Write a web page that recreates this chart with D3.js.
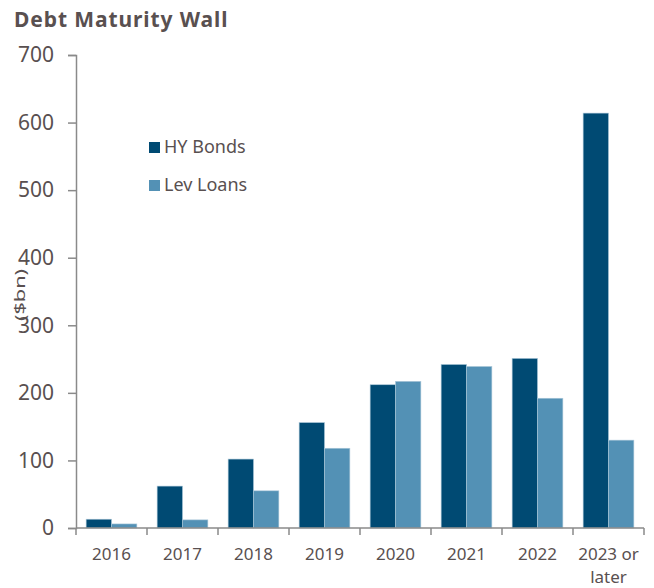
<!DOCTYPE html>
<html><head><meta charset="utf-8">
<script src="https://cdn.jsdelivr.net/npm/d3@7"></script>
<style>body{margin:0;background:#fff}</style>
</head><body>
<svg id="c" width="654" height="588"></svg>
<script>
const categories = ["2016","2017","2018","2019","2020","2021","2022","2023 or later"];
const hyBonds = [13, 62, 102, 156, 212, 242, 251, 614];
const levLoans = [6, 12, 55, 118, 217, 239, 192, 130];
const seriesNames = ["HY Bonds","Lev Loans"];
const yTicks = [0,100,200,300,400,500,600,700];
const colors = ["#004A73","#5391B5"];
const textColor = "#595050";
const font = "'Noto Sans', sans-serif";

const svg = d3.select("#c");
const m = {left:76, right:644, top:55, bottom:528};
const x = d3.scaleBand().domain(categories).range([m.left, m.right]).padding(0);
const xs = d3.scaleBand().domain(seriesNames).range([0, x.bandwidth()]).paddingInner(0).paddingOuter(0.4);
const y = d3.scaleLinear().domain([0,700]).range([m.bottom, m.top]);

svg.append("text").attr("x",14).attr("y",27).text("Debt Maturity Wall")
  .attr("font-family",font).attr("font-weight","bold").attr("font-size",21)
  .attr("letter-spacing",0.9).attr("fill",textColor);

// y axis
const ya = svg.append("g").attr("transform",`translate(${m.left},0)`)
  .call(d3.axisLeft(y).tickValues(yTicks).tickSize(8).tickPadding(14));
ya.select(".domain").attr("stroke","#8a8a8a").attr("stroke-width",1.5);
ya.selectAll(".tick line").attr("stroke","#8a8a8a").attr("stroke-width",1.5);
ya.selectAll(".tick text").attr("font-family",font).attr("font-size",21).attr("fill",textColor);

svg.append("text").attr("transform",`translate(25,295) rotate(-90) scale(1.55,1)`).attr("text-anchor","middle")
  .text("($bn)").attr("font-family",font).attr("font-size",14).attr("fill",textColor);

// bars
const data = categories.map((c,i)=>({c, vals:[hyBonds[i], levLoans[i]]}));
const g = svg.append("g");
data.forEach(d=>{
  d.vals.forEach((v,j)=>{
    g.append("rect").attr("x",x(d.c)+xs(seriesNames[j])).attr("width",xs.bandwidth())
      .attr("y",y(v)).attr("height",y(0)-y(v)).attr("fill",colors[j])
      .attr("stroke","#a9c6d8").attr("stroke-width",0.6);
  });
});

// x axis
const xa = svg.append("g");
xa.append("line").attr("x1",m.left).attr("x2",m.right).attr("y1",m.bottom).attr("y2",m.bottom)
  .attr("stroke","#8a8a8a").attr("stroke-width",1.5);
categories.concat([null]).forEach((c,i)=>{
  const xx = i < categories.length ? x(c) : m.right;
  xa.append("line").attr("x1",xx).attr("x2",xx).attr("y1",m.bottom).attr("y2",m.bottom+7)
    .attr("stroke","#8a8a8a").attr("stroke-width",1.5);
});
categories.forEach(c=>{
  const cx = x(c)+x.bandwidth()/2;
  const parts = c === "2023 or later" ? ["2023 or","later"] : [c];
  const t = xa.append("text").attr("text-anchor","middle").attr("font-family",font)
    .attr("font-size",17).attr("fill",textColor);
  parts.forEach((p,k)=>t.append("tspan").attr("x",cx).attr("y",560+k*23).text(p));
});

// legend
seriesNames.forEach((s,j)=>{
  const ly = 142 + j*38;
  svg.append("rect").attr("x",149).attr("y",ly).attr("width",11).attr("height",11).attr("fill",colors[j]);
  svg.append("text").attr("x",164).attr("y",ly+11).text(s).attr("font-family",font)
    .attr("font-size",18).attr("fill",textColor);
});
</script>
</body></html>
